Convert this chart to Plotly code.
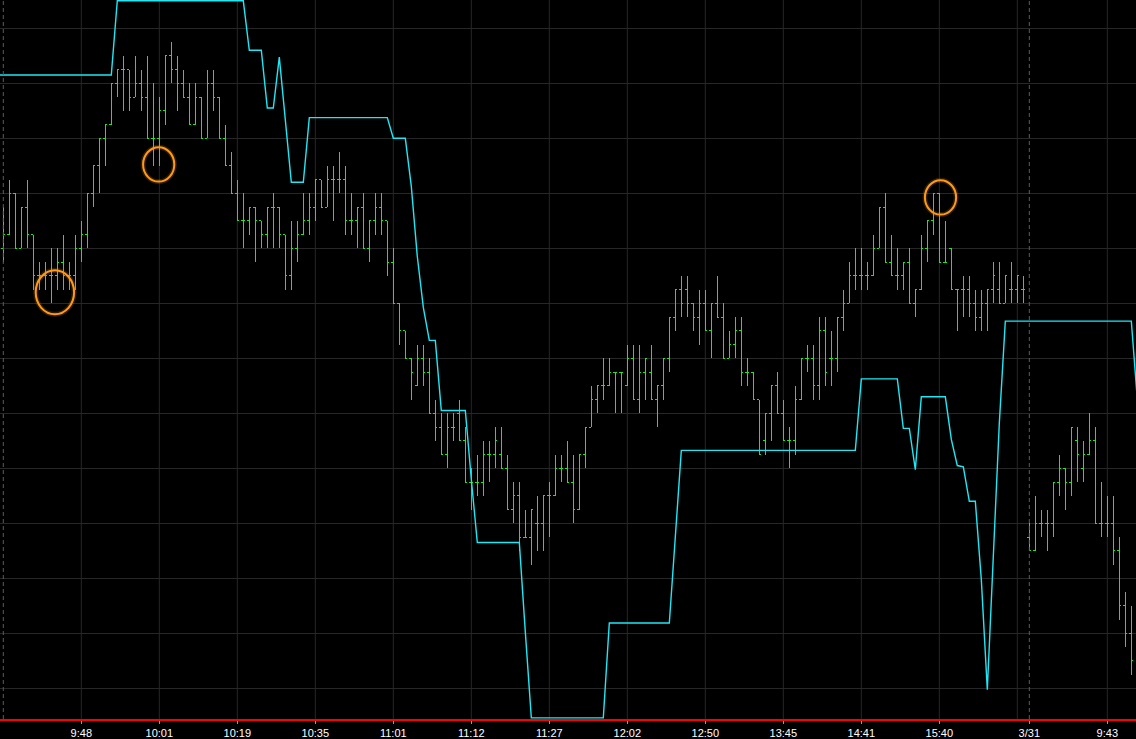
import plotly.graph_objects as go

# ---- data (price in tick units) ----
opens = [32,33,36,32,35,33,30,30,30,30,31,30,30,32,33,36,38,40,41,44,45,45,43,44,43,40,40,42,46,45,
         44,43,41,43,40,44,43,40,38,36,34,34,35,34,33,35,35,33,30,32,33,34,35,37,35,37,37,37,34,34,
         35,32,34,35,34,31,28,26,24,22,24,23,20,19,17,19,20,18,15,15,15,17,17,17,16,13,14,11,11,12,
         12,14,14,16,16,15,13,17,19,21,22,22,23,23,22,24,21,23,23,21,22,24,27,29,29,28,27,28,26,28,
         27,24,25,26,23,23,21,18,20,22,20,18,18,21,24,24,22,26,24,24,27,28,30,30,30,30,32,35,31,30,
         30,31,28,29,32,34,36,31,32,29,29,29,28,27,28,29,29,28,29,29,29,11,10,12,12,12,15,16,15,18,
         16,17,18,12,12,12,10,6,4]
highs = [35,37,36,35,37,33,31,31,32,32,33,31,33,34,36,38,40,41,44,45,46,45,46,45,46,44,43,46,47,46,
         45,44,44,43,45,45,43,41,39,37,36,35,35,34,35,36,35,33,34,34,36,36,37,37,38,38,39,38,36,35,
         36,34,36,36,34,32,28,26,24,25,25,24,21,20,20,20,21,19,16,17,18,18,19,19,17,15,15,13,13,14,
         14,15,17,17,18,17,17,19,22,22,24,24,23,23,25,25,25,24,25,22,24,27,29,30,30,28,29,29,28,30,
         28,26,27,27,24,23,21,20,22,23,21,19,22,24,25,25,27,27,26,27,29,31,32,32,31,33,35,36,33,32,
         31,32,29,33,34,36,36,34,32,29,30,30,29,29,29,31,31,30,31,30,30,12,14,13,13,15,17,16,19,19,
         18,20,19,15,14,14,11,7,6]
lows = [31,33,32,32,32,29,29,29,28,29,29,29,29,31,32,35,36,38,41,43,42,42,43,42,40,38,38,41,44,42,
        43,41,41,40,40,42,40,38,36,34,32,33,31,32,32,32,32,29,29,31,33,33,34,35,35,34,36,33,33,32,
        32,31,33,33,30,28,25,24,21,22,22,20,18,17,16,18,18,15,13,14,14,15,16,16,13,12,10,11,9,10,
        10,11,14,15,15,12,13,16,19,20,21,22,20,20,22,21,20,21,21,19,21,23,26,27,27,26,25,26,24,27,
        24,24,24,22,22,21,17,17,18,20,18,16,17,21,23,21,21,22,22,23,26,28,29,29,29,30,32,31,30,29,
        29,28,27,29,31,33,31,31,29,26,27,27,26,26,26,28,28,28,28,28,28,10,10,11,10,11,14,13,14,15,
        15,17,12,11,11,9,5,3,1]
closes = [33,36,32,35,33,30,30,30,30,31,30,30,32,33,36,38,40,41,44,45,45,43,44,43,40,40,42,46,45,44,
          43,41,43,40,44,43,40,38,36,34,34,35,34,33,35,35,33,30,32,33,34,35,37,35,37,37,37,34,34,35,
          32,34,35,34,31,28,26,24,23,24,23,20,19,17,19,19,18,15,15,15,17,17,18,16,13,14,11,11,13,12,
          14,14,16,16,15,13,17,19,21,22,22,23,23,23,24,21,23,24,21,22,24,27,29,28,28,27,28,26,28,27,
          24,25,26,23,23,21,17,20,22,20,18,18,21,24,24,22,26,23,24,27,28,30,30,30,30,32,35,31,30,30,
          31,28,29,32,34,36,31,31,29,29,29,28,27,28,29,30,28,30,29,30,29,10,12,12,12,15,16,15,19,17,
          17,18,12,12,12,10,6,4,2]
# indicator starts one bar before the first visible bar
indicator = ([44.6] * 20 + [50.0] * 22 + [46.4] * 3 + [42.2] * 2 + [45.9, 41.3] + [36.8] * 3 +
             [41.5] * 14 + [40.0] * 3 + [36.5, 31.4, 27.7] + [25.3] * 2 + [20.2] * 5 + [15.2] +
             [10.6] * 8 + [4.1] + [-2.15] * 13 + [4.75] * 11 + [11.0] + [17.3] * 30 + [22.5] * 7 +
             [18.9] * 2 + [15.9] + [21.2] * 5 + [18.1, 16.2, 16.1] + [13.6] * 2 + [7.9, -0.1, 9.2, 19.3] +
             [26.7] * 22 + [21.0])
grid_positions = [13, 26, 39, 52, 65, 78, 91, 104, 117, 130, 143, 156, 169, 184]
tick_positions = [13, 26, 39, 52, 65, 78, 91, 104, 117, 130, 143, 156, 171, 184]
tick_labels = ["9:48", "10:01", "10:19", "10:35", "11:01", "11:12", "11:27", "12:02",
               "12:50", "13:45", "14:41", "15:40", "3/31", "9:43"]
session_starts = [0, 171]
highlights = [(8.6, 28.8), (25.9, 38.1), (156.2, 35.7)]  # marked bars (index, price)

bars_x = list(range(len(opens)))
ind_x = list(range(-1, len(indicator) - 1))

fig = go.Figure()
fig.add_trace(go.Ohlc(
    x=bars_x, open=opens, high=highs, low=lows, close=closes,
    increasing=dict(line=dict(color="#22E622", width=1)),
    decreasing=dict(line=dict(color="#22E622", width=1)),
    tickwidth=0.34, hoverinfo="skip", showlegend=False))
fig.add_trace(go.Scatter(
    x=ind_x, y=indicator, mode="lines",
    line=dict(color="#1FE8F4", width=1.4), hoverinfo="skip", showlegend=False))

shapes = []
for g in grid_positions:
    shapes.append(dict(type="line", xref="x", yref="paper", x0=g, x1=g, y0=0, y1=1,
                       line=dict(color="#272727", width=1), layer="below"))
for s in session_starts:
    shapes.append(dict(type="line", xref="x", yref="paper", x0=s, x1=s, y0=0, y1=1,
                       line=dict(color="#5c5c5c", width=1, dash="4px,3px"), layer="above"))
for cx, cy in highlights:
    rx = 2.6 if cx > 20 else 3.2
    ry = 1.25 if cx > 20 else 1.6
    shapes.append(dict(type="circle", xref="x", yref="y", x0=cx - rx, x1=cx + rx,
                       y0=cy - ry, y1=cy + ry,
                       line=dict(color="rgba(255,150,20,0.18)", width=5), layer="above"))
    shapes.append(dict(type="circle", xref="x", yref="y", x0=cx - rx, x1=cx + rx,
                       y0=cy - ry, y1=cy + ry,
                       line=dict(color="#FF9A17", width=2), layer="above"))

fig.update_layout(
    width=1136, height=739,
    margin=dict(l=0, r=0, t=0, b=20),
    paper_bgcolor="#000000", plot_bgcolor="#000000",
    shapes=shapes,
    xaxis=dict(range=[-0.55, 188.78], showgrid=False, zeroline=False,
               rangeslider=dict(visible=False),
               tickmode="array", tickvals=tick_positions, ticktext=tick_labels,
               ticks="outside", ticklen=3, tickcolor="#9a9a9a",
               showline=True, linecolor="#FF0000", linewidth=2,
               tickfont=dict(family="Liberation Sans, Arial", size=11, color="#FFFFFF")),
    yaxis=dict(range=[-2.233, 50.058], showgrid=True, gridcolor="#272727", gridwidth=1,
               dtick=4, tick0=0, showticklabels=False, zeroline=False, ticks=""),
)

post = """
document.body.style.margin = '0';
document.body.style.padding = '0';
document.body.style.background = '#000';
document.querySelectorAll('.ohlc path').forEach(function(p){ p.style.shapeRendering = 'crispEdges'; });
"""
fig.write_html("out.html", config={"displayModeBar": False}, post_script=post)
